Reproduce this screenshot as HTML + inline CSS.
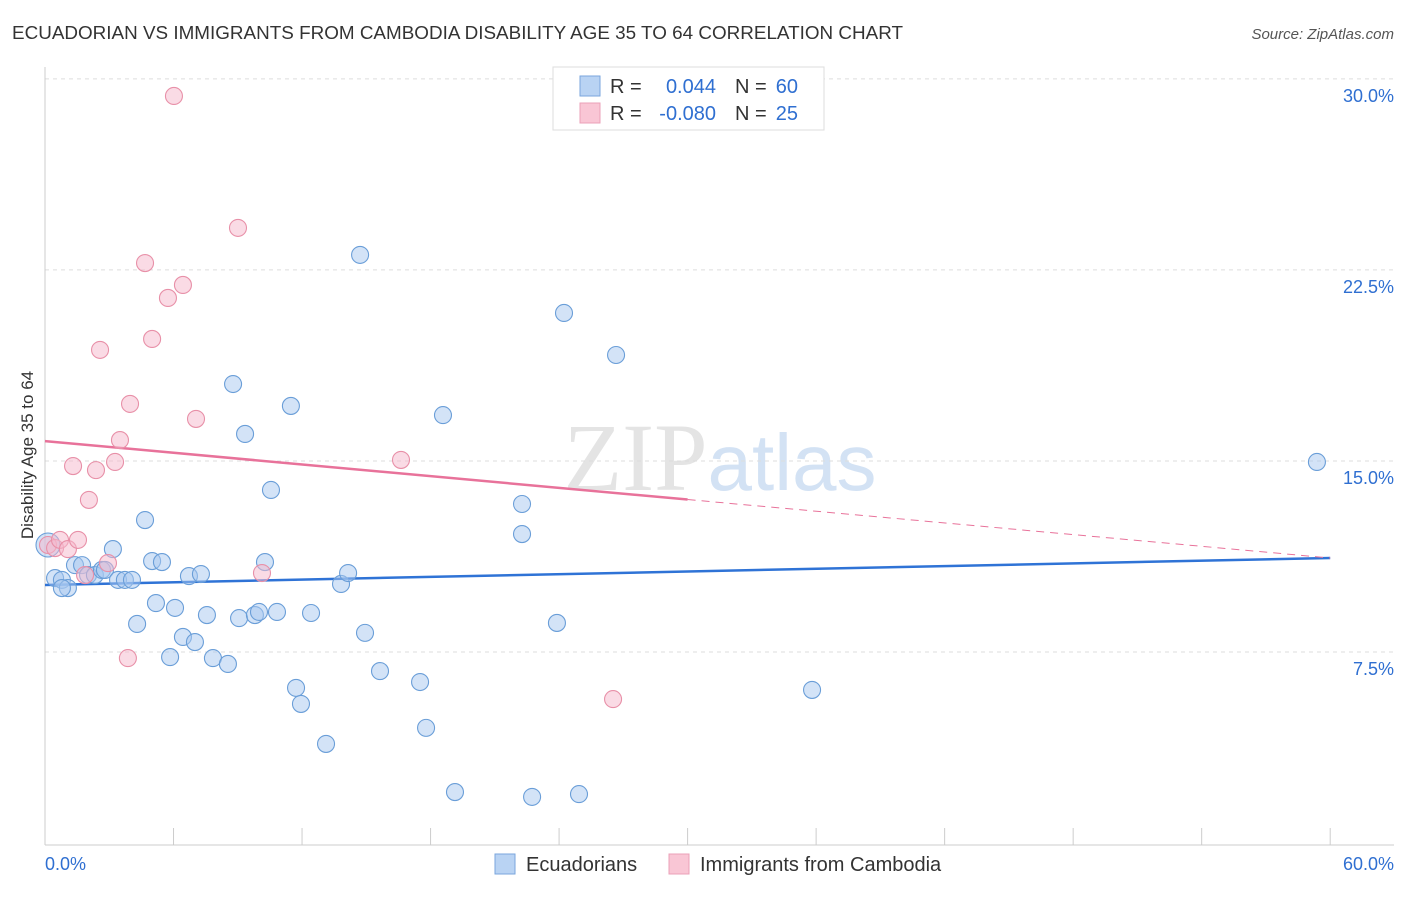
<!DOCTYPE html>
<html><head><meta charset="utf-8"><style>
body{margin:0;background:#fff;font-family:"Liberation Sans",sans-serif;}
svg text{font-family:"Liberation Sans",sans-serif;}
</style></head><body>
<svg id="chart" width="1406" height="892" xmlns="http://www.w3.org/2000/svg">
<text x="12" y="39" font-size="18" fill="#333" textLength="891" lengthAdjust="spacingAndGlyphs">ECUADORIAN VS IMMIGRANTS FROM CAMBODIA DISABILITY AGE 35 TO 64 CORRELATION CHART</text>
<text x="1394" y="39" font-size="15" fill="#555" text-anchor="end" font-style="italic">Source: ZipAtlas.com</text>
<text x="720" y="490" font-size="96" text-anchor="middle" fill="#e4e4e4"><tspan font-family="Liberation Serif">ZIP</tspan><tspan fill="#d3e2f4" font-size="80">atlas</tspan></text>
<g id="grid"></g>
<g id="axes"></g>
<g id="lines"></g>
<g id="pts"></g>
<text transform="translate(33,455) rotate(-90)" font-size="17" fill="#333" text-anchor="middle">Disability Age 35 to 64</text>
<g>
<rect x="553" y="67" width="271" height="63" fill="#fff" stroke="#ddd"/>
<rect x="580" y="76" width="20" height="20" fill="#b9d3f3" stroke="#7aa6dc"/>
<rect x="580" y="103" width="20" height="20" fill="#f9c6d5" stroke="#eba0b8"/>
<text x="610" y="93" font-size="20" fill="#333">R =</text>
<text x="716" y="93" font-size="20" fill="#2f6fd1" text-anchor="end">0.044</text>
<text x="735" y="93" font-size="20" fill="#333">N =</text>
<text x="798" y="93" font-size="20" fill="#2f6fd1" text-anchor="end">60</text>
<text x="610" y="120" font-size="20" fill="#333">R =</text>
<text x="716" y="120" font-size="20" fill="#2f6fd1" text-anchor="end">-0.080</text>
<text x="735" y="120" font-size="20" fill="#333">N =</text>
<text x="798" y="120" font-size="20" fill="#2f6fd1" text-anchor="end">25</text>
</g>
<g>
<rect x="495" y="854" width="20" height="20" fill="#b9d3f3" stroke="#7aa6dc"/>
<text x="526" y="871" font-size="20" fill="#333">Ecuadorians</text>
<rect x="669" y="854" width="20" height="20" fill="#f9c6d5" stroke="#eba0b8"/>
<text x="700" y="871" font-size="20" fill="#333">Immigrants from Cambodia</text>
</g>
</svg>
<script>
const blueX=[0.14,0.47,0.79,1.07,1.40,1.73,2.01,2.33,2.66,2.80,3.17,3.41,3.73,4.06,4.30,4.67,5.00,5.18,5.46,5.84,6.07,6.44,6.72,7.00,7.28,7.56,7.84,8.54,8.78,9.06,9.34,9.80,9.99,10.27,10.55,10.83,11.48,11.72,11.95,12.42,13.12,13.82,14.15,14.71,14.94,15.64,17.51,17.79,18.58,19.14,22.27,22.27,22.74,23.90,24.23,24.93,26.66,35.81,59.38,0.79];
const blueY=[11.70,10.40,10.33,10.01,10.91,10.91,10.52,10.52,10.72,10.72,11.54,10.33,10.33,10.33,8.60,12.68,11.07,9.42,11.03,7.30,9.23,8.09,10.48,7.89,10.56,8.95,7.26,7.03,18.02,8.83,16.06,8.95,9.07,11.03,13.86,9.07,17.16,6.09,5.46,9.03,3.89,10.17,10.60,23.09,8.25,6.75,6.32,4.52,16.80,2.00,13.31,12.13,1.81,8.64,20.81,1.92,19.16,6.01,14.96,10.01];
const pinkX=[0.14,0.47,0.70,1.07,1.31,1.54,1.87,2.05,2.38,2.57,2.94,3.27,3.50,3.87,3.97,4.67,5.00,5.74,6.02,6.44,7.05,9.01,10.13,16.62,26.52];
const pinkY=[11.70,11.58,11.90,11.54,14.80,11.90,10.52,13.47,14.64,19.36,10.99,14.96,15.82,7.26,17.24,22.77,19.79,21.40,29.33,21.91,16.65,24.15,10.60,15.04,5.65];
const yTicks=[7.5,15.0,22.5,30.0];
const xTickLabels=["0.0%","60.0%"];
const blueTrend=[10.13,11.19];
const pinkTrend=[15.78,11.19];
const NS="http://www.w3.org/2000/svg";
const X=v=>45+v*21.42, Y=v=>843-v*25.47;
function mk(t,a,p){const e=document.createElementNS(NS,t);for(const k in a)e.setAttribute(k,a[k]);p.appendChild(e);return e;}
const grid=document.getElementById('grid'),axes=document.getElementById('axes'),lines=document.getElementById('lines'),pts=document.getElementById('pts');
yTicks.forEach(t=>{
 const l=mk('line',{x1:45,x2:1394,y1:Y(t),y2:Y(t),stroke:'#ddd','stroke-dasharray':'4,4'},grid);
 
 
 const tx=mk('text',{x:1394,y:Y(t)+23,'font-size':18,fill:'#2f6fd1','text-anchor':'end'},axes);
 tx.textContent=t.toFixed(1)+'%';
 
 
});
mk('line',{x1:45,x2:45,y1:67,y2:845,stroke:'#ccc'},axes);
mk('line',{x1:45,x2:1394,y1:845,y2:845,stroke:'#ccc'},axes);
for(let i=0;i<=10;i++){const tk=mk('line',{x1:X(i*6),x2:X(i*6),y1:828,y2:845,stroke:'#ccc'},axes);
 
 }
const xl0=mk('text',{x:45,y:870,'font-size':18,fill:'#2f6fd1'},axes);xl0.textContent=xTickLabels[0];


const xl1=mk('text',{x:1394,y:870,'font-size':18,fill:'#2f6fd1','text-anchor':'end'},axes);xl1.textContent=xTickLabels[1];


blueX.forEach((x,i)=>{const c=mk('circle',{cx:X(x),cy:Y(blueY[i]),r:i===0?12:8.5,fill:'rgba(168,200,240,0.5)',stroke:'#6a9ed8','stroke-width':1.1},pts);
 
 });
pinkX.forEach((x,i)=>{const c=mk('circle',{cx:X(x),cy:Y(pinkY[i]),r:8.5,fill:'rgba(245,184,203,0.5)',stroke:'#e890a8','stroke-width':1.1},pts);
 
 });
const bl=mk('line',{x1:X(0),y1:Y(blueTrend[0]),x2:X(60),y2:Y(blueTrend[1]),stroke:'#2f73d6','stroke-width':2.5},lines);


const pm=pinkTrend[0]+(pinkTrend[1]-pinkTrend[0])*0.5;
const pl=mk('line',{x1:X(0),y1:Y(pinkTrend[0]),x2:X(30),y2:Y(pm),stroke:'#e8729a','stroke-width':2.5},lines);


const pd=mk('line',{x1:X(30),y1:Y(pm),x2:X(60),y2:Y(pinkTrend[1]),stroke:'#e8729a','stroke-width':1,'stroke-dasharray':'8,6'},lines);


</script>
</body></html>
